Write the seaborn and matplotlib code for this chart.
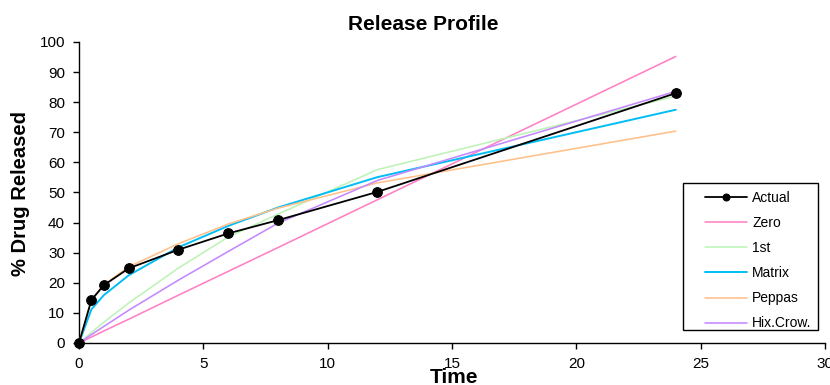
import matplotlib
matplotlib.use("Agg")
import matplotlib.pyplot as plt
from matplotlib.patches import Rectangle
import seaborn as sns
import pandas as pd

# ---- data ----
time = [0, 0.5, 1, 2, 4, 6, 8, 12, 24]
actual = [0, 14.3, 19.2, 24.8, 31.0, 36.4, 40.8, 50.2, 83.0]
zero = [0, 2.0, 4.0, 7.9, 15.9, 23.8, 31.7, 47.6, 95.2]
first = [0, 3.5, 6.9, 13.3, 24.9, 35.2, 42.8, 57.6, 82.0]
matrix = [0, 11.2, 15.9, 22.5, 31.8, 38.9, 45.0, 55.1, 77.5]
peppas = [0, 14.5, 19.3, 25.3, 33.0, 39.5, 44.8, 53.2, 70.4]
hixcrow = [0, 2.8, 5.5, 10.9, 20.9, 30.4, 39.8, 54.0, 83.6]

series_names = ["Actual", "Zero", "1st", "Matrix", "Peppas", "Hix.Crow."]
series_vals = [actual, zero, first, matrix, peppas, hixcrow]
x_ticks = [0, 5, 10, 15, 20, 25, 30]
y_ticks = [0, 10, 20, 30, 40, 50, 60, 70, 80, 90, 100]

colors = {"Actual": "#000000", "Zero": "#FF80C4", "1st": "#BDF3B6",
          "Matrix": "#00BEF5", "Peppas": "#FFC08A", "Hix.Crow.": "#C488FF"}
widths = {"Actual": 1.3, "Zero": 1.15, "1st": 1.15, "Matrix": 1.4,
          "Peppas": 1.15, "Hix.Crow.": 1.15}

sns.set_style("ticks")
plt.rcParams["font.family"] = ["Liberation Sans", "DejaVu Sans"]
plt.rcParams["text.color"] = "black"

fig = plt.figure(figsize=(8.3, 3.85), dpi=100)
ax = fig.add_axes([79 / 830, 1 - 343 / 385, 746 / 830, 301 / 385])

frames = []
for name, vals in zip(series_names, series_vals):
    frames.append(pd.DataFrame({"Time": time, "Release": vals, "Model": name}))
df = pd.concat(frames, ignore_index=True)

for i, name in enumerate(series_names):
    sub = df[df["Model"] == name]
    kw = {}
    if name == "Actual":
        kw = dict(marker="o", markersize=7, markeredgecolor="black",
                  markerfacecolor="black")
    sns.lineplot(data=sub, x="Time", y="Release", ax=ax, color=colors[name],
                 linewidth=widths[name], label=name, sort=True,
                 estimator=None, zorder=10 if name == "Actual" else 3 + i,
                 clip_on=False, **kw)

ax.set_xlim(0, 30)
ax.set_ylim(0, 100)
ax.set_xticks(x_ticks)
ax.set_yticks(y_ticks)
ax.tick_params(axis="both", direction="out", length=4, width=1,
               colors="black", labelsize=11, labelcolor="black")
ax.tick_params(axis="x", pad=6)
ax.tick_params(axis="y", pad=6)
for s in ["left", "bottom"]:
    ax.spines[s].set_linewidth(1)
    ax.spines[s].set_color("black")
sns.despine(ax=ax)
ax.set_xlabel("")
ax.set_ylabel("")

fig.text(423 / 830, 1 - 30 / 385, "Release Profile", ha="center",
         va="baseline", fontsize=15, fontweight="bold", color="black")
fig.text(454 / 830, 1 - 383 / 385, "Time", ha="center", va="baseline",
         fontsize=15, fontweight="bold", color="black")
fig.text(20 / 830, 1 - 194 / 385, "% Drug Released", ha="center",
         va="center", rotation=90, fontsize=14.5, fontweight="bold",
         color="black")

# legend
handles, labels = ax.get_legend_handles_labels()
leg = ax.legend(handles, labels, loc="upper left",
                bbox_to_anchor=((698 - 79) / 746, (343 - 184) / 301),
                frameon=False, borderpad=0, fontsize=10,
                handlelength=3.0, handletextpad=0.4, labelspacing=0.8,
                numpoints=1)
for t in leg.get_texts():
    t.set_color("black")
for h in leg.legend_handles:
    if h.get_marker() == "o":
        h.set_markersize(5)
ax.add_patch(Rectangle(((683 - 79) / 746, (343 - 330) / 301),
                       (818 - 683) / 746, (330 - 183) / 301,
                       transform=ax.transAxes, fill=False, lw=1,
                       ec="black", zorder=20, clip_on=False))

fig.savefig("out.png", dpi=100)
